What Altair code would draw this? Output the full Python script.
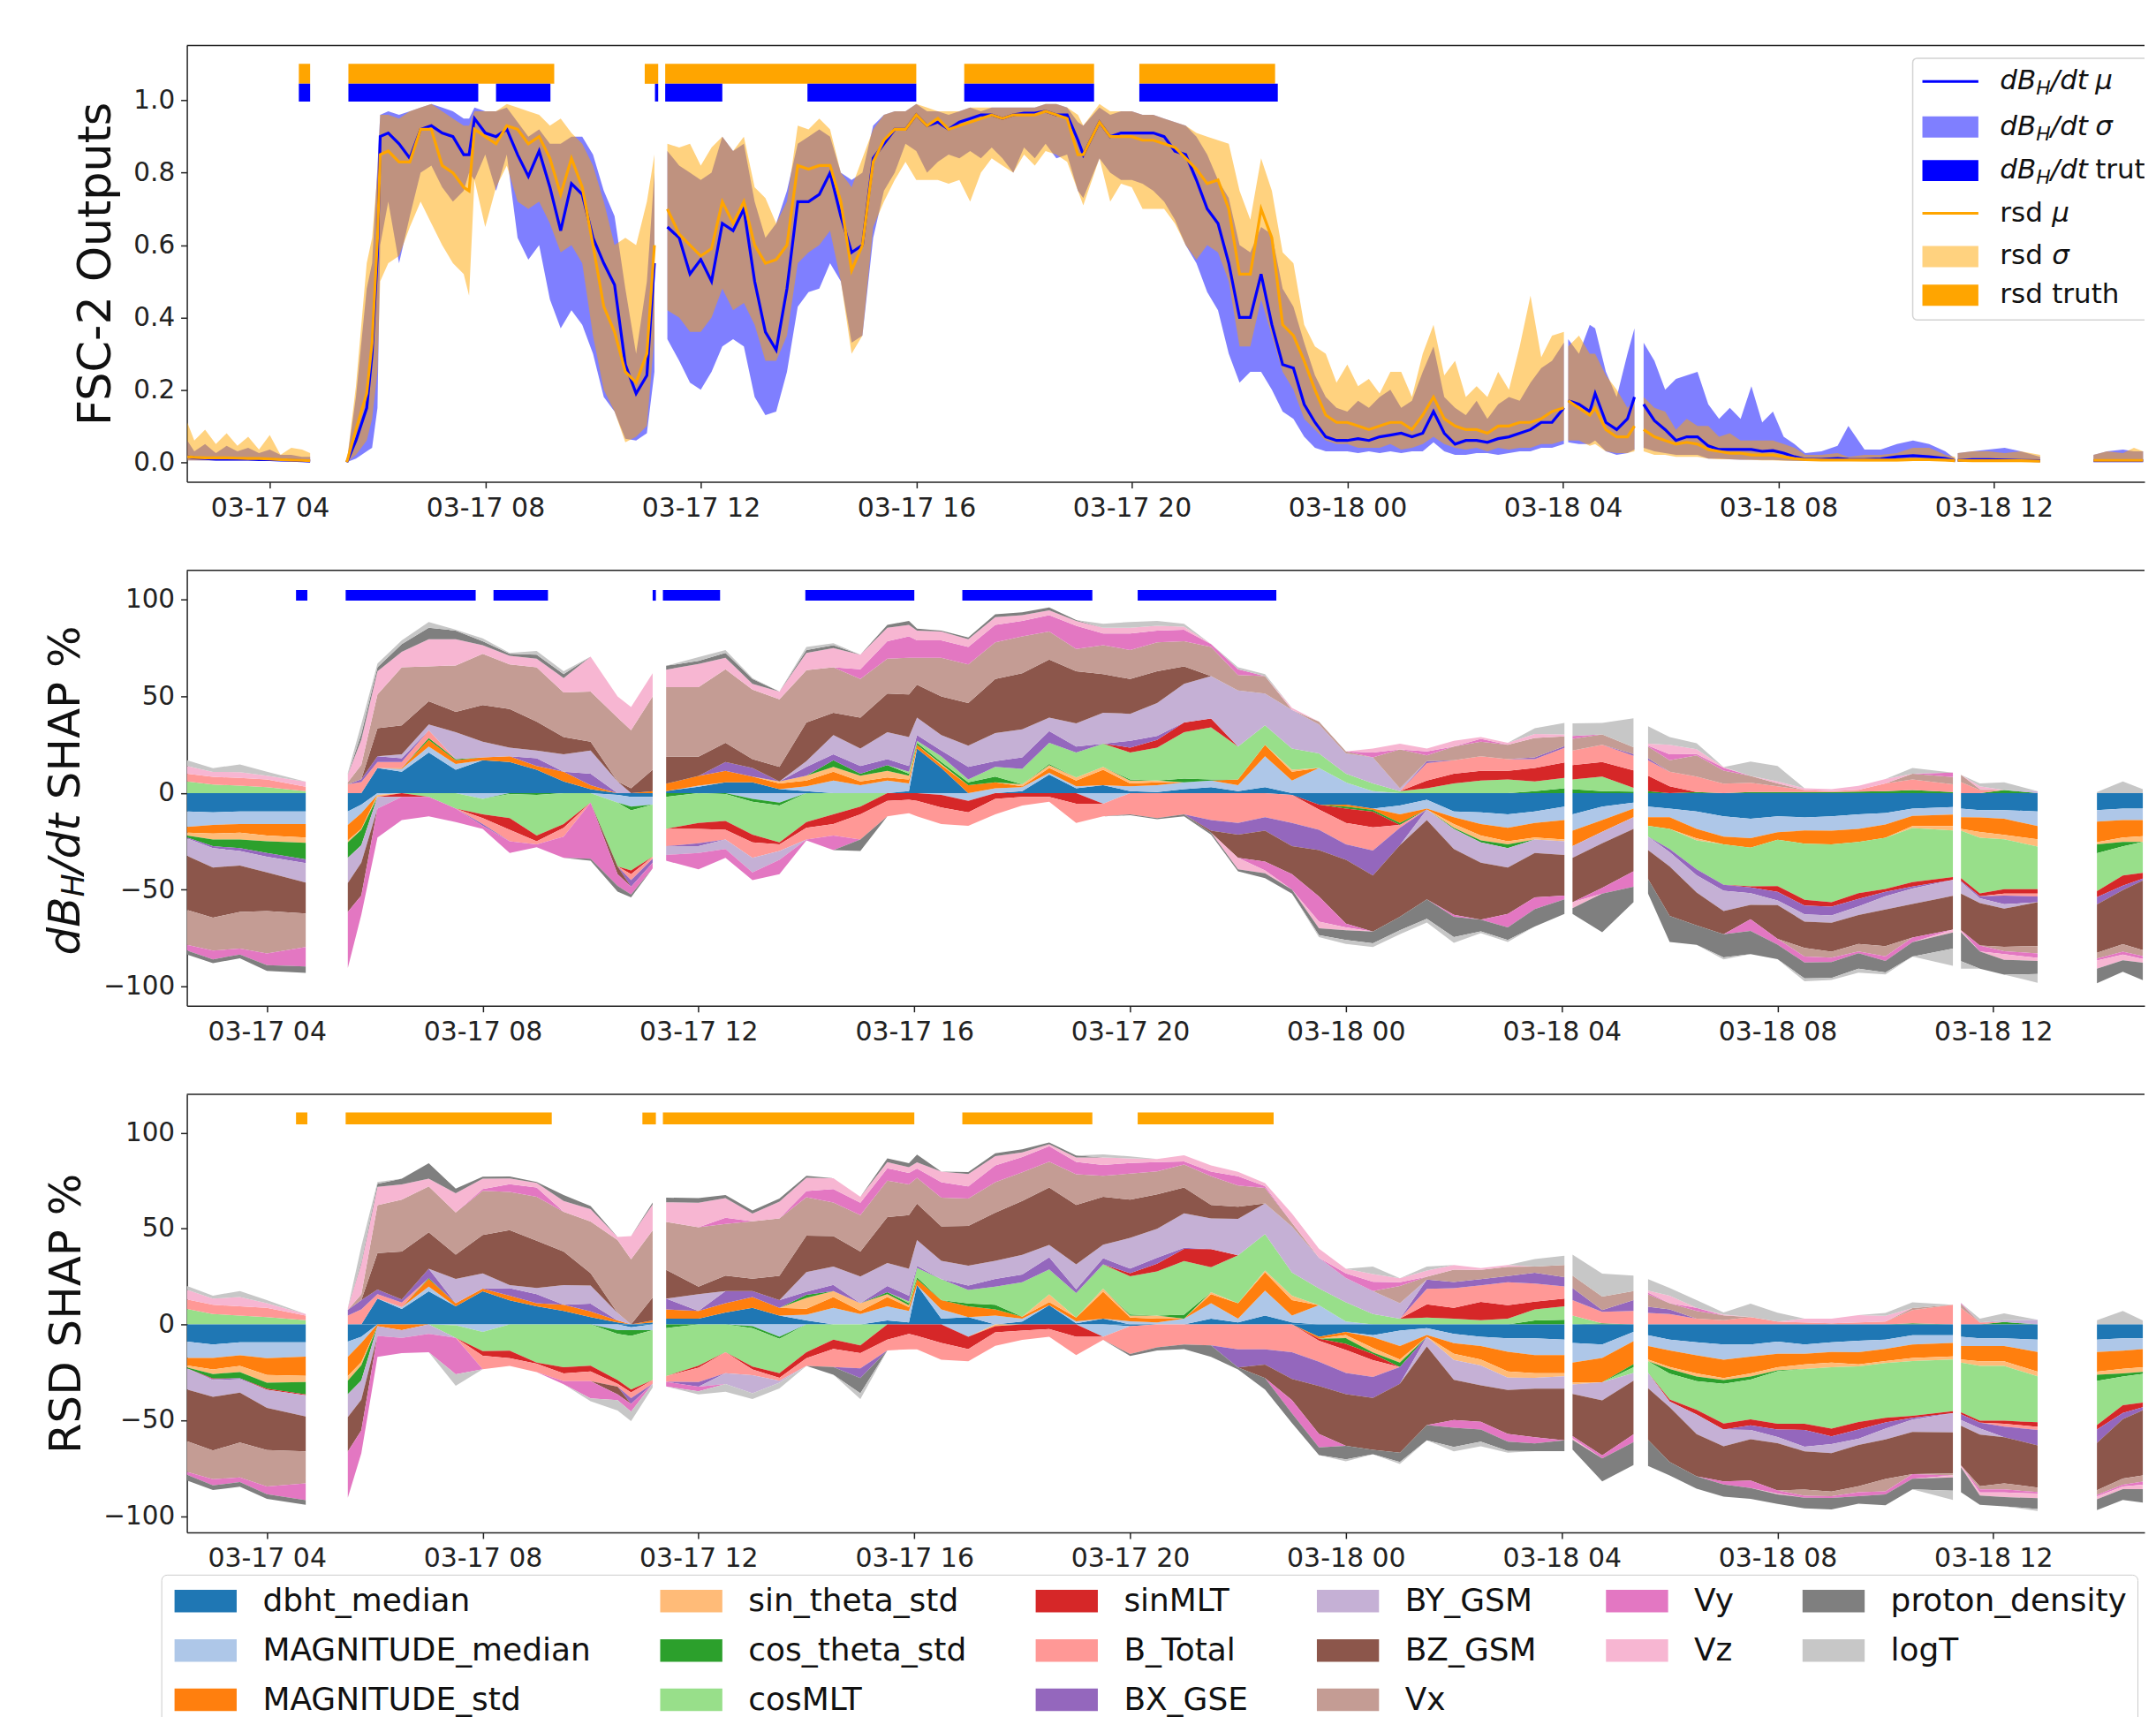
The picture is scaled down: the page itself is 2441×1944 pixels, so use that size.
import altair as alt
import pandas as pd
import numpy as np

alt.data_transformers.disable_max_rows()

FONT = "DejaVu Sans"
BLUE = "#0000ff"
ORANGE = "#ffa500"
INK = "#222222"

FEATURES = ["dbht_median", "MAGNITUDE_median", "MAGNITUDE_std", "sin_theta_std", "cos_theta_std",
            "cosMLT", "sinMLT", "B_Total", "BX_GSE", "BY_GSM", "BZ_GSM", "Vx", "Vy", "Vz",
            "proton_density", "logT"]
COLORS = ["#1f77b4", "#aec7e8", "#ff7f0e", "#ffbb78", "#2ca02c", "#98df8a", "#d62728", "#ff9896",
          "#9467bd", "#c5b0d5", "#8c564b", "#c49c94", "#e377c2", "#f7b6d2", "#7f7f7f", "#c7c7c7"]

# ---------- hours since 03-17 00:00 : output panel ----------
top_t = [2.47,2.6,2.8,3.0,3.2,3.4,3.6,3.8,4.0,4.2,4.4,4.6,4.75,
 5.43,5.6,5.8,5.9,6.0,6.05,6.2,6.4,6.6,6.8,7.0,7.2,7.4,7.6,7.7,7.8,8.0,8.2,8.4,8.6,8.8,9.0,9.2,9.4,9.6,9.8,10.0,10.2,10.4,10.6,10.8,11.0,11.14,
 11.38,11.6,11.8,12,12.2,12.4,12.6,12.8,13,13.2,13.4,13.6,13.8,14,14.2,14.4,14.6,14.8,15,15.2,15.4,15.6,15.8,16,16.2,16.4,16.6,16.8,17,17.2,17.4,17.6,17.8,18,18.2,18.4,18.6,18.8,19,19.1,19.4,19.6,19.8,20,20.2,20.4,20.6,20.8,21,21.2,21.4,21.6,21.8,22,22.2,22.4,22.6,22.8,23,23.2,23.4,23.6,23.8,24,24.2,24.4,24.6,24.8,25,25.2,25.4,25.6,25.8,26,26.2,26.4,26.6,26.8,27,27.2,27.4,27.6,27.8,28.02,
 28.1,28.3,28.5,28.6,28.8,29,29.2,29.33,
 29.5,29.7,29.9,30.1,30.3,30.5,30.7,30.9,31.1,31.3,31.5,31.7,31.9,32.1,32.3,32.5,32.8,33.1,33.3,33.6,33.9,34.2,34.5,34.8,35.1,35.28,
 35.33,35.6,35.9,36.2,36.5,36.86,
 37.85,38.1,38.4,38.6,38.77]
top_seg_ends = [4.75, 11.14, 28.02, 29.33, 35.28, 36.86]

db_mu = [1.5,1.2,1,.8,.8,.8,.8,.7,.7,.6,.5,.4,.3,
 0,6,15,30,58,90,91,88,84,92,93,91,90,85,85,95,91,90,92,85,79,86,76,64,77,74,62,55,49,27,19,24,55,
 65,62,52,56,50,66,64,70,50,36,31,48,72,72,74,80,68,58,60,84,88,92,92,96,93,94,92,94,95,96,96,95,96,96.5,96.5,97,96,96,89,85,94,90,91,91,91,91,90,86,85,78,70,66,55,40,40,52,38,27,26,16,11,7,6,6,6.5,6,7,7.5,8,7,8,14,8,5,6,6,5.5,6.5,7,8,9,11,11,15,
 17,16,14,19,11,9,12,18,
 16,11.5,9,6,7,7,4.5,3.5,3.5,3.5,3.5,3,3.2,2.5,1.5,.8,.8,1,.8,.7,.9,1.5,1.8,1.5,1,.4,
 .5,.7,.7,.6,.5,.4,
 .4,.4,.4,.4,.4]
rsd_mu = [1.5,1.3,1.2,1.2,1.2,1.1,1,1,.9,.7,.6,.5,.4,
 0,9,19,33,62,85,86,83,83,92,92,82,80,76,75,92,90,88,93,92,88,90,84,74,84,76,60,43,36,25,22,30,60,
 70,63,60,57,59,72,66,72,60,55,56,60,82,81,82,82,72,53,60,83,89,92,92,96,93,95,92,93,94,95,96,95,96,96,96,97,96,95,85,85,94,90,90,90,89,89,88,87,84,81,77,78,70,52,52,70,62,38,35,28,20,13,11,11,10,9,10,11,11,9,13,18,12,10,9,9,8,10,10,11,11,12,14,15,
 17,15,13,15,9,7,7,10,
 9,7,6,5,5.5,5,3.5,3,2.5,2.5,2,2,2,1.5,1,.7,.6,.6,.6,.6,.6,.6,.7,.7,.6,.4,
 .5,.4,.4,.4,.4,.3,
 .5,.5,.5,.5,.5]
db_up = [6,3,5,2.5,4.5,3,4,2.5,3.5,2,2,1.5,1.5,
 0,18,48,55,82,96,97,96,97,98,99,98,97,95,95,98,97,97,98,94,90,92,88,88,90,90,85,75,68,48,30,50,80,
 86,82,80,78,80,90,86,88,72,62,66,75,88,90,92,90,80,78,80,93,96,97,97,99,97,97,96,97,98,97,98,98,98,98,98,99,99,98,94,93,98,96,97,97,96,96,95,94,93,90,85,78,73,60,58,65,63,48,43,33,24,18,15,14,17,15,18,20,15,17,25,32,18,15,13,17,12,16,18,17,22,26,28,33,
 34,30,38,37,25,18,30,37,
 33,28,20,23,24,25,16,12,15,12,21,11,14,7,5,2.5,3,4.5,10,3.5,3.5,5,6,5,3,1,
 2.5,3,3.5,4,3,1.5,
 2,3,3.5,3,3]
db_lo = [.5,.5,.5,.5,.5,.5,.5,.5,.4,.4,.3,.3,.2,
 0,1,3,4,15,60,72,55,68,80,82,76,72,75,80,78,85,75,85,62,56,60,45,37,42,38,30,18,14,6.5,6,8,25,
 34,28,22,20,25,32,34,32,18,13,14,25,43,47,48,55,50,33,35,62,75,80,88,86,80,83,85,84,86,84,87,84,80,87,84,88,84,85,75,73,84,80,78,78,77,75,72,67,60,55,47,42,30,22,25,25,20,14,12,7,4,3,3,3,2.5,3,2.5,3,2.5,3,3,5.5,3,2,2,2.5,2.5,2,2.5,3,3,4,4,5,
 5.5,5,5,6,3,2,2.5,3.5,
 4,3,2.5,2,2,2,1,1,.8,.7,.7,.6,.6,.5,.4,.3,.3,.3,.3,.3,.3,.4,.4,.3,.3,.2,
 .2,.2,.2,.2,.2,.2,
 .2,.2,.2,.2,.2]
rsd_up = [11,6,9,5,8,4.5,7,3.5,7.5,2,4,3.5,2.5,
 0,21,55,62,80,96,96,95,97,98,99,97,95,93,93,97,97,97,99,98,97,96,93,95,91,88,82,72,60,62,60,72,85,
 88,87,88,82,87,90,86,90,76,73,66,72,93,92,95,92,80,76,84,92,96,97,97,99,98,97,97,97,98,98,98,98,98,98,98,99,99,98,96,93,99,97,97,97,96,96,95,94,93,91,90,89,88,75,67,84,75,58,55,38,32,30,22,27,21,23,19,25,25,18,30,38,24,28,18,21,18,25,20,32,46,29,35,36,
 32,35,30,30,24,20,15,17,
 18,15,14,9,12,10,10,7,8,6,6,6,6,5,4,2,2,2.5,1.5,2,2,2.5,4,4,2,1.5,
 2.5,3,3,2.5,3,2,
 2,3,2.5,4,3]
rsd_lo = [.5,.5,.5,.5,.5,.5,.5,.5,.4,.4,.3,.3,.2,
 0,2,6,12,25,50,55,57,65,72,66,60,55,52,46,78,65,76,82,72,70,72,66,58,60,55,35,20,14,5.5,7,10,35,
 42,40,36,36,40,48,42,44,38,28,28,35,55,58,60,64,50,30,35,65,72,78,83,78,78,78,77,78,72,80,84,82,80,85,82,86,85,83,75,71,84,72,77,76,70,70,70,66,60,56,60,58,50,32,32,45,35,25,20,12,9,6,5,5,4,4,4,5,3.5,4,5,7,5,4,3.5,4,3,4,3.5,4,4,5,5,6,
 6,6,4.5,5,3,2.5,2.5,3,
 3,2,2,1.5,1.5,1.5,1,.8,.8,.7,.6,.5,.5,.4,.3,.3,.3,.3,.3,.2,.2,.2,.3,.3,.2,.2,
 .2,.2,.2,.2,.2,.2,
 .2,.2,.2,.2,.2]

# ---------- truth intervals (hours) ----------
db_truth_start = [4.54, 5.46, 8.2, 11.15, 11.34, 13.98, 16.89, 20.14]
db_truth_end = [4.75, 7.87, 9.21, 11.21, 12.4, 16.0, 19.3, 22.71]
rsd_truth_start = [4.54, 5.46, 10.96, 11.34, 16.89, 20.14]
rsd_truth_end = [4.75, 9.28, 11.21, 16.0, 19.3, 22.66]

# ---------- SHAP panels: shared time knots ----------
shap_t = [2.52,3,3.5,4,4.72,
 5.5,5.75,6.05,6.5,7,7.5,8,8.5,9,9.5,10,10.5,10.75,11.15,
 11.4,12,12.5,13,13.5,14,14.5,15,15.5,15.9,16.05,16.5,17,17.5,18,18.5,19,19.5,20,20.5,21,21.5,22,22.5,23,23.5,24,24.5,25,25.5,26,26.5,27,27.5,28.05,
 28.2,28.75,29.33,
 29.6,30,30.5,31,31.5,32,32.5,33,33.5,34,34.5,35.25,
 35.4,35.75,36.2,36.82,
 37.92,38.4,38.77]
shap_seg_ends = [4.72, 11.15, 28.05, 29.33, 35.25, 36.82]

db_dbht = [-9.5,-10,-9.5,-9.5,-9.5, -9.5,-6,13,11,21,12,17,16,12,6,2,-1,-2,-2, 1,3.3,5.5,5.5,2,1,0,0,0,1,23,13,0,0,1,9.5,2.5,4,1,.5,2,3,1,3,-1,-6,-6,-8,-6.5,-3.5,-9.5,-10,-11,-9.5,-7, -11,-7,-5, -7,-8,-9.5,-12,-13.3,-12,-12.6,-12,-11,-10.3,-8,-7.3, -8,-8.8,-8.8,-9.5, -8.8,-8,-8]
db_magmed = [-8,-6.5,-6.5,-6.5,-6.5, -7,-4.5,-1,1.5,3,3,-3,0,0,0,0,-4,-5,-4, 0,.5,0,-3,-5,2.5,6.5,4,6.5,4,0,-1,-4,2.5,2,1,1,-5.5,2.5,3.5,3.5,3.5,3,16,6.5,13,5.5,1,-4.5,-4.5,-3,-6,-7,-6,-7, -8.5,-7,-3, -5.5,-4.5,-9,-10.5,-10,-8.3,-6.8,-7.5,-7.5,-6,-3.8,-3.8, -4.5,-3.8,-4.5,-7.6, -6,-6,-6]
db_magstd = [-3,-4.5,-4.5,-6,-7, -8,-8,0,.5,3.5,2,1.5,3,2,5,2,0,0,1, 3.8,5,6,3,3,3,4.5,2,1.5,2,2,1.5,4,3,.5,2.5,3,8,1.5,1.5,0,0,3,6,4.5,0,-1,-.7,-4.5,-.5,-3.5,-6,-7,-7.5,-10, -8,-6,-4.5, -4.5,-6,-5,-4,-5,-3.8,-6.8,-7,-6.8,-6.8,-5.3,-6, -6,-7.5,-8.3,-6.8, -10.6,-9,-8.3]
db_sinth = [-1.5,-3,-3.5,-3,-2.7, -1,-.5,-1,0,0,0,0,0,0,0,0,0,0,0, 0,0,0,0,1,2.5,2.5,3,3.5,2,0,.5,0,0,1,1.5,1.5,1.5,1.5,1,0,0,0,0,1,0,0,0,0,0,-2,-2.5,-1.5,-1,-1, 0,0,0, 0,0,-1,0,0,0,0,0,0,0,-1,-2.3, -1,-3,-2.3,-3.8, -1.2,-2.3,-3]
db_costh = [-1,-3.5,-4.5,-6,-8.6, -8,-8,0,0,1,.5,0,-.5,-1,0,0,0,-2,0, -2,0,-.5,-1.5,-1.5,0,3.5,1,3,1,1,1,1.5,3,0,.5,0,0,.5,0,2,.5,0,0,0,0,-1,-1,-1,0,-.5,-1,-2,1,2.5, 2,1,.7, 1,0,.5,0,.5,.5,.5,.5,.7,1,1.5,.5, 0,0,1.5,0, -4.5,-2.3,0]
db_cosmlt = [6,4.4,3.8,3,1, 0,0,0,0,-2,-8,-8,-12.5,-21,-16,-5,-33,-31,-27, -16.5,-15.5,-14,-17,-19,-15,-11,-7,0,1,1,3,1.5,5,8,11,13,12,14,17,24,27,17,10,11,7.5,4.5,4,1,2.5,5,6.5,7,5,5.3, 5,7.5,2, -5.5,-10.5,-15,-21,-20,-24,-29,-30,-26.5,-26.5,-28,-24, -24.5,-28.8,-25.8,-22, -19.7,-15,-16]
db_sinmlt = [0,0,0,0,0, 0,0,0,-2,0,0,-2,-6,-3,-2,0,0,-2,0, 0,-3,-4.5,-4,-1,-3,-5,-4,-4,-3.5,-4,-6.5,-6,-3,-2,-2,-5.5,0,2.5,4,5,4.5,0,0,0,-2.5,-7.5,-8,0,4,5,5,4.5,7,8, 7.5,7.5,9, 8,3.5,0,0,-.5,-3,-3,-2.3,-3,-1.5,-2.3,-1.5, -1.5,-1.5,-2.3,-2.3, -3,-5.3,-3]
db_btotal = [4,4,4,4,2.3, 4.5,5.6,3,3,4,0,-3,-6,-1.5,-4.5,0,0,-3,-1, -9,-7.5,-5,-8,-3.5,-6,-6,-13,-8,-7,-8,-8.5,-7,-8,-4.5,-2.5,-10,-6.5,-11,-13,-11,-14,-15.5,-12.5,-14.5,-10.5,-11,-12,-1.5,9,7,7.5,6,4.5,7.5, 7.5,9,7.5, 8,7.5,8,4.8,4.8,3,1,.5,1,4,5.5,4, 5.6,1.5,-1,-1.5, 0,0,0]
db_bx = [-.5,-1,-1.5,-2,-2, 0,1.5,3,2,0,0,-1,0,4,0,6,0,-3.5,-2, 0,-1.5,4.5,4.5,0,4.5,3,4,3,3,3,3,6.5,3,6,6,3,0,3.5,2,0,-5.5,-6,-7,-12,-10.5,-8,-13,-9,1,0,0,0,1,1, 0,0,1, 1,-1.5,-3,-3,-3,-4.5,-4.5,-4.5,-3.8,-2.3,-1,0, -.5,-1,-4.5,-3, -3.8,-2.3,-1]
db_by = [-9,-10,-7.5,-8,-10, -13,-9,-6,2,3,14,8,4.5,4,9,12,6,0,0, -4.5,-3.5,-5,-7.5,-4.5,3,10,9,14,15,9,8,11,14.5,14.5,7,12,16,14,17,20,22,29,16.5,20,15,10.5,13.5,1.5,-5.5,-10.5,-10.5,-10,-7,-7, -6,-6,-6, -7,-7.5,-9,-10.5,-6,-2.3,-3.8,-3.8,-4.5,-6.8,-8,-8.3, -6,-2.5,-2.3,1, 0,0,0]
db_bz = [-28,-26,-24,-20,-16, -15,-17,14.5,15,12,10.5,19,20,15,9,4.5,-4,2.5,11, 14,10,10,4.5,7.5,20,11.5,16,20,22,17,20,22,28,29,30,27,20,18,16.5,9,-1,-12,-16,-14.5,-24,-33,-29,-37,-41,-34,-29.5,-24,-23,-21, -23,-23,-22, -15,-25.5,-17,-12,-7.5,-17.5,-13.6,-15,-15,-19,-17.4,-17.4, -19,-22,-19.7,-22.7, -25,-28,-36]
db_vx = [-18,-17,-19,-22,-17.4, 1,7.5,17.5,30,18,24,26.5,23,28,23,26,33,30,38, 36,36,38,36,35,27,23.5,20,18,19,14,20,20,19,19,14.5,11.5,15,15,15,13,15,8,9,0,1.5,1,0,20,3,7,7.5,7.5,10,5, 6,5.3,3.5, 6,6,11,6.8,3.5,1.5,-4.5,-3,-3.8,-5.3,3,3.8, 3.8,.5,-2.3,-3.8, -3,-3.8,-3]
db_vy = [-3,-4.5,-3,-6,-10, -29,-10,-15,-12,-10,-7,-1.5,-6,-1.5,-11,-29,-6,-4,-3, -3,-8.5,-4.5,-4,-7.5,-.5,-7.5,5,9,11,9,9,9,9,8,8.5,12,6,8.5,6,6,1.5,3,-4.5,-8,-13,-2,2.5,0,2,-1,1.5,-7,-6,-2, 1.5,-3,-8, .5,3,.7,1.5,-6,-3,-3,-2.3,-1,-2.3,-2.3,2.3, 0,-3,-1.5,-2.3, -1,-1.5,-1.5]
db_vz = [4,2.5,3,2,2.6, 4,13,12,8,14,13.5,4.5,4.5,4.5,7.5,18,11,12,12, 9,12,6,3,4,9,10,7.5,7,6,5,4.5,4,4,3,2.5,2.5,3,3,2.5,1.5,0,-6,-1.5,1,-3.5,-1.5,2,3,1.5,3,1,1,2,1, -3,0,0, 1,5,2.5,.3,0,1,1,1,2,2.3,0,-1.5, -1,1.5,-3,-1.5, -4.2,-3,-2]
db_proton = [-2,-2,-2,-3,-3.3, 0,3,2,4,6,4.5,2,1,2,2,-1,-3,-1.5,0, 2,1.5,2.5,2.5,0,1.5,1.5,-6,1.5,2,1,.5,1,1.5,1.5,1.5,.5,0,-.5,-.5,-1,-1,-1,-2.5,-2,-3.5,-5,-6,-7,-10,-10.5,-6,-6.5,-9,-7.5, -3,-20,-8, -7.5,-13.5,-10,-12,-12,-7.5,-8.3,-8.3,-8,-6,-7.5,-8.3, -15,-9,-7.6,-6.8, -7.6,-6,-9]
db_logt = [3,2,4,2,0, 1,5,2,2,3,.5,1.5,.5,2,1.5,0,0,0,0, 0,2,1.5,.5,0,1.5,1,0,0,0,0,0,0,0,0,0,0,2,3,2.5,1.5,0,1,1,0,-1,-2,-2,-2,-2,-3,-1,-1,3,6, 6.5,6,15, 9,4,3,-1,7.5,8,-1.5,-1,-2,-1,3,-9, -3.8,1.5,4,-4.5, .5,6,2]

rsd_dbht = [-9,-10.5,-9.4,-9.4,-9.4, -9,-6.5,13.4,8,17.3,9.4,17.3,12.5,9.4,7,3.8,1,-1.5,1, 3,3,6.2,8.6,4.6,2,0,0,2,1,20.5,3,3.8,0,1.5,10,.6,3,-1,0,0,3,1,4.6,1,-6.5,-4,-5.7,-3.3,-2,-5,-6.5,-7.3,-7.3,-8, -9.7,-10.5,-4, -5.7,-8,-9.4,-10.5,-10.5,-9,-10.5,-9.4,-8.6,-8,-5.7,-5.7, -6.5,-7.3,-7.3,-8, -8,-7.3,-7.3]
rsd_magmed = [-8.5,-7,-6.7,-8.3,-7.5, -8,-3.2,0,1,2.4,-.5,-4,0,0,0,0,-3,-1.5,-3, 0,0,0,-1,-6.5,3,8.6,5.4,7.4,6,0,4.8,-6.5,4.6,1.5,0,1,-6.5,1.6,1,3,8,2,13,3.6,10,1.5,-1,-8,-3.5,-4.8,-4.8,-7,-8.7,-8, -10.3,-7,-4.8, -5.6,-5.6,-6.7,-8,-6.4,-6.4,-4.8,-5,-5.9,-4.8,-4.8,-4, -4.8,-4,-4,-6.4, -6.4,-6.4,-5.6]
rsd_magstd = [-4,-6,-5.6,-8.7,-10, -10,-10,-1,-3,4,1.6,1.3,2.4,1.6,3.2,3,1,0,1, 4.8,4,4.8,5.6,4,3.2,5.6,1.6,4.8,2,3,4.8,5.6,3.2,1,1.6,2,14,2,2,0,4.8,8,9.5,8,-1,-1.6,-5.6,-7,-1,-5.6,-7,-10.3,-9.5,-9.5, -10.3,-12.7,-12, -7,-8.7,-9.5,-9.5,-8.7,-7,-5.6,-5.6,-6.4,-6.4,-7,-7, -7,-8,-8,-10.3, -10.3,-9.5,-9.5]
rsd_sinth = [-1,-2.4,-3.2,-4,-3.2, -2.4,-1.6,0,0,0,0,0,0,0,0,0,0,0,0, 0,0,0,0,0,5.6,3.2,4,1.6,1,0,0,0,-1,0,4,0,1.6,1,1.6,0,1,0,1,2.4,0,-1.6,-2.4,-1.6,0,-3.2,-3.2,-3.2,-2.4,-1.6, -1,0,0, -1,-1,-1.6,-1,-1.6,-1.6,-2.4,-2.4,-1,-1,-1.6,-1.6, -1.6,-2.4,-2.4,-2.4, -1.6,-2.4,-2.4]
rsd_costh = [-.5,-2.4,-3.2,-3.2,-6.4, -7,-8,0,0,.5,0,0,0,0,0,0,-2,-3,0, -2,0,0,-1,-1,1.6,0,0,1,1,1,0,1.5,2.4,0,0,0,0,.5,0,2,0,0,0,0,0,-3,-.8,-2.4,0,0,0,0,2,2.4, 0,.5,-1.6, 0,-2.4,-2.4,-2,-1.6,-.5,0,0,0,0,.5,0, 0,0,1.2,0, -3.2,-1.6,-1]
rsd_cosmlt = [8,5.4,4.6,3.8,2.2, 0,0,0,0,0,-6.5,-10,-13.7,-20,-22.4,-21.6,-24,-28,-26, -25,-21.6,-14.5,-20,-18,-14.5,-8,-11,0,1,5,11,7,9.5,18,13,12.7,12.7,20,23,28,13,25,19,12,8.7,10,5.4,3,3.5,3,2.2,3,5.8,7, 4.6,0,-3, -6,-13.5,-15,-20.7,-20.7,-27.3,-28.6,-32,-29,-28.6,-28.6,-27, -26,-28.6,-28.6,-24, -23,-15,-15]
rsd_sinmlt = [0,-.3,0,-.5,-.5, 0,0,0,0,0,0,-2.4,-4,-.5,-3.2,-3,-2,-1.5,0, 0,-1,0,-1.5,-2.4,-3.2,-4.8,-4,-8,-5,-6,-9.7,-6.4,-3.2,-3.3,-2.5,-6.5,0,1.6,4,6.4,9.5,0,0,0,-1,-3.2,-3.2,0,7,5.6,9.5,7,4,4, 0,0,0, 0,-1,-2.4,-3.2,-3.2,-3,-3.2,-4,-4,-2.4,-1,-1, -1,-1,-1.5,-2.4, -2.4,-4,-2.4]
rsd_btotal = [5,4.8,4.8,4.8,2.4, 4.6,7.8,2.4,2.4,0,0,-7,-4,-4.4,-4,-5,-1.5,-3,-2, -3,-7.5,-11,-3,-1.5,-4,-9.5,-8,-5.6,-8,-7,-8.7,-6.4,-7,-4.8,-4,-9.5,-1.6,-14.5,-12,-10.5,-11,-13,-13,-14.5,-11,-12,-8.7,0,8,10.3,8.7,12,9.5,6.4, 8,6,7, 6,5.4,3,2.2,3.8,1.5,1,.5,1,1.5,7,10.2, 8.6,1,-1.5,-1.6, 0,0,0]
rsd_bx = [0,-.5,-.5,0,0, 3,4.8,2.4,1.6,4.8,0,0,4,4.8,0,4,0,-3,0, 5.6,-2.4,6.4,3.2,4,1.6,3.2,-5,3.2,3,1,0,2.4,4,4,6.4,2,3.2,2.4,3.2,.5,0,-9.5,-8,-14,-12.7,-11,-11,-8.7,4.8,3.2,3.2,3.2,5.6,4.8, 6.4,1,5.6, 3.2,2.4,0,0,-2.4,-4,-8.7,-4,-4.8,-3.2,-1,0, -3,-3,-5.6,-8, -7,-3.2,-1.6]
rsd_by = [-11,-8.7,-7,-9.5,-11, -12,-10,-5,-4,-5,12.7,8,1.6,3.2,10.3,9.5,4,0,0, 0,8.7,-5.6,-9.5,-1,10.3,9.5,14,12,14,13.5,9.5,10.3,9.5,10.3,6.4,13,7,16,15,18,16,19,16,24,16,12.7,12,8,-5,-10.3,-10.3,-6.4,-5.6,-6.4, -5,-9.5,-4, -8,-3,-10.3,-8.7,-4.8,-3.2,-2.4,-4.8,-3.2,-5.6,-6.4,-10, -3,-3.2,1,2.4, 0,0,0]
rsd_bz = [-27,-28,-26,-22,-18.3, -18,-16,19,25,19,12.7,20,28.6,24.6,17.5,6.4,-4,0,12, 15,4,8,6.4,12.7,19,16,13,24,28,19,18,20.7,25,28,30,31,25,20,18,13.5,7,6.4,-7,-11,-25,-27,-27,-36,-41,-21,-19,-23,-25.4,-27, -22,-28.6,-28, -27,-28.6,-22,-18.3,-21.5,-24.6,-20,-20,-21.5,-20.7,-22,-21.5, -20.7,-27,-24,-22, -24.6,-31,-34]
rsd_vx = [-16,-15,-18.3,-19,-16.7, 0,3,25,27,24,22,23,20,23,20.7,27,38,34,35, 25,31,27,30,30,20,17.5,19,19,16,13.5,15,14.3,16,15,13.5,16,11,13.5,12,12,15,11,8,2,0,0,0,9,1.6,6.4,4.8,4.8,3.2,6.4, 6.4,7,4.8, 6.4,3.2,4,2.5,0,0,-3.2,-2.4,-3.2,-6.4,1,-1, 2,-1.6,-3.2,-2.4, -2.4,-3.2,-3.2]
rsd_vy = [-1.5,-3.2,-2.4,-4,-8.7, -24,-12,-11,-8,-9.5,-19,1,4,4.8,-1.6,-9,-3,-4,0, -2.4,-2.4,3.2,0,0,3.2,7,6.4,6.4,6,4.8,8,6.4,8.7,8,8,6.4,5.6,5.6,4.8,1.6,2.4,4.8,1,-7,-7,2.4,4.8,2,0,-4,-4,-4,-3.2,0, -1,-1.6,-4, 1,0,1.6,-1.6,-4,-1.6,-1,-1,-2,-1.6,-2.4,0, .5,-1.6,-1.6,-.8, -.8,-1,-1.6]
rsd_vz = [5,3.2,4.8,2.4,.8, 1,16,9.5,8,4,10,5.4,3,2.4,5.6,6.4,1.6,12,13.5, 10.3,12.7,10.3,4,8.7,7,5.6,3.2,3.2,3,3.2,5.6,6.4,4.8,2.4,1,2.4,4,2.4,1.6,3.2,3.2,2.4,1.6,4.8,4.8,2.4,4,2,3.2,2.4,1,1,0,0, -1,0,0, 1,4,0,.5,0,-.5,2,2.5,3.8,3,0,-1, -1,-1.6,-2.4,-2.4, -1.6,-1.4,-2.4]
rsd_proton = [-3,-2.4,-2.4,-2.4,-2.4, 0,1,1.6,3,8,2.4,1,1,.5,3.2,1.6,0,0,1, 2.4,2.4,1.6,1.6,1.6,1,-4,-8,2,2,4,0,1,1.5,1.6,1,1,0,-1,-1.6,-2.4,-6,-1,-6,-5,-4,-7,-2.4,-4.8,-8,-10,-6.4,-4.8,-4,-5.6, -5,-12,-12, -13.5,-7,-6.4,-6.4,-5.6,-5,-5.6,-6,-4,-5.6,-5.6,-7, -13,-4.8,-4.8,-5.6, -5.6,-5.6,-7]
rsd_logt = [2,1.6,3.2,1.6,0, 0,8,1,0,0,-6,0,0,0,0,-1.5,-5.5,-5,-2, 0,-1.6,-4,-3,-3,0,0,-3,0,0,0,0,0,0,0,0,0,1.6,1,0,0,0,0,0,0,0,-1,4,-1,2,-2.4,-2.4,-1,4,4.8, 11,12,8, 6,4,4,1,7,4.6,0,0,0,1.5,3,-4.8, 0,2,3.5,-1, 2.2,7,2]

DB_SERIES = [db_dbht, db_magmed, db_magstd, db_sinth, db_costh, db_cosmlt, db_sinmlt, db_btotal,
             db_bx, db_by, db_bz, db_vx, db_vy, db_vz, db_proton, db_logt]
RSD_SERIES = [rsd_dbht, rsd_magmed, rsd_magstd, rsd_sinth, rsd_costh, rsd_cosmlt, rsd_sinmlt, rsd_btotal,
              rsd_bx, rsd_by, rsd_bz, rsd_vx, rsd_vy, rsd_vz, rsd_proton, rsd_logt]


def stamp(hours):
    return pd.Timestamp("2015-03-17") + pd.to_timedelta(np.asarray(hours, dtype=float), unit="h")


def iso(hour):
    return (pd.Timestamp("2015-03-17") + pd.Timedelta(hours=hour)).strftime("%Y-%m-%dT%H:%M:%S")


def hour_tick(day, hour):
    return alt.DateTime(year=2015, month=3, date=day, hours=hour)


X_TICKS = [hour_tick(17, h) for h in (4, 8, 12, 16, 20)] + [hour_tick(18, h) for h in (0, 4, 8, 12)]

WIDTH = 2221
top_x_scale = alt.Scale(domain=[iso(2.462), iso(38.797)])
shap_x_scale = alt.Scale(domain=[iso(2.517), iso(38.802)])
top_y_scale = alt.Scale(domain=[-0.054, 1.152])
db_y_scale = alt.Scale(domain=[-110, 115.2])
rsd_y_scale = alt.Scale(domain=[-108.5, 120])

x_axis = alt.Axis(values=X_TICKS, format="%m-%d %H", title=None, grid=False, labelFontSize=30, labelFont=FONT,
                  labelColor=INK, tickColor=INK, domainColor=INK, tickSize=7, tickWidth=1.5, domainWidth=1.5,
                  labelPadding=8)


def y_axis(values, fmt, title=None, title_x=-137, title_size=50):
    return alt.Axis(values=values, format=fmt, title=title, titleX=title_x, titleFontSize=title_size,
                    titleFont=FONT, titleFontWeight="normal", titleColor="#111111", titleBaseline="middle",
                    titleAlign="center", grid=False, labelFontSize=29.5, labelFont=FONT, labelColor=INK,
                    tickColor=INK, domainColor=INK, tickSize=7, tickWidth=1.5, domainWidth=1.5, labelPadding=7)


top_y_axis = y_axis([0, .2, .4, .6, .8, 1.0], ".1f", "FSC-2 Outputs", -102, 51)
SHAP_TICKS = [-100, -50, 0, 50, 100]
db_y_axis = y_axis(SHAP_TICKS, "d")
rsd_y_axis = y_axis(SHAP_TICKS, "d", "RSD SHAP %", -136, 50)


def segments(hours, ends):
    return np.searchsorted(np.array(ends) + 1e-6, np.array(hours))


def truth_df(starts, ends, lo, hi):
    return pd.DataFrame({"start": stamp(starts), "end": stamp(ends), "lo": lo, "hi": hi})


def truth_layer(df, color, x_scale, y_scale, axis_y=None):
    x_kw = {"axis": x_axis} if axis_y is not None else {}
    y_kw = {"axis": axis_y} if axis_y is not None else {}
    return alt.Chart(df).mark_rect(color=color).encode(
        x=alt.X("start:T", scale=x_scale, **x_kw), x2="end:T",
        y=alt.Y("lo:Q", scale=y_scale, **y_kw), y2="hi:Q")


one = pd.DataFrame({"a": [0]})


def txt(s, x, y, size, style="normal", angle=0, color="#111111", clip=False):
    kw = {"clip": True} if clip else {}
    return alt.Chart(one).mark_text(text=s, fontSize=size, font=FONT, fontStyle=style, angle=angle, align="left",
                                    baseline="middle", color=color, **kw).encode(x=alt.value(x), y=alt.value(y))


def rect(x0, x1, y0, y1, color, opacity=1.0, stroke=None, radius=0):
    kw = dict(color=color, opacity=opacity)
    if stroke:
        kw.update(stroke=stroke, strokeWidth=1.5, clip=True)
    if radius:
        kw.update(cornerRadius=radius)
    return alt.Chart(one).mark_rect(**kw).encode(x=alt.value(x0), x2=alt.value(x1), y=alt.value(y0), y2=alt.value(y1))


def top_spine():
    return alt.Chart(one).mark_rule(color=INK, strokeWidth=1.5).encode(
        x=alt.value(0), x2=alt.value(WIDTH), y=alt.value(0))


# ---------- panel 1 ----------
top_df = pd.DataFrame({"time": stamp(top_t), "seg": segments(top_t, top_seg_ends),
                       "db_mu": np.array(db_mu) / 100, "rsd_mu": np.array(rsd_mu) / 100,
                       "db_up": np.array(db_up) / 100, "db_lo": np.array(db_lo) / 100,
                       "rsd_up": np.array(rsd_up) / 100, "rsd_lo": np.array(rsd_lo) / 100})
top_x = alt.X("time:T", scale=top_x_scale)


def band(lo, hi, color):
    return alt.Chart(top_df).mark_area(color=color, opacity=0.5, interpolate="linear").encode(
        x=top_x, y=alt.Y(f"{lo}:Q", scale=top_y_scale), y2=f"{hi}:Q", detail="seg:N")


def mean_line(field, color):
    return alt.Chart(top_df).mark_line(color=color, strokeWidth=3.2, interpolate="linear").encode(
        x=top_x, y=alt.Y(f"{field}:Q", scale=top_y_scale), detail="seg:N")


LX0, LX1, TX = 1969, 2032.5, 2057
ROWS = [41, 92.5, 142, 190.5, 239.5, 283.5]


def math_label(row, tail, tail_style):
    y = ROWS[row]
    return [txt("dB", TX, y, 31, "italic"), txt("H", TX + 41, y + 8, 22, "italic"),
            txt("/dt", TX + 57.5, y, 31, "italic"), txt(tail, TX + 108, y, 31, tail_style, clip=True)]


def plain_label(row, tail, tail_style):
    y = ROWS[row]
    return [txt("rsd", TX, y, 31), txt(tail, TX + 59, y, 31, tail_style)]


top_legend = [rect(1958, WIDTH + 30, 14.5, 311.5, "#ffffff", 0.85, "#cccccc", 5),
              rect(LX0, LX1, ROWS[0] - 1.5, ROWS[0] + 1.5, BLUE),
              rect(LX0, LX1, ROWS[1] - 12, ROWS[1] + 12, BLUE, 0.5),
              rect(LX0, LX1, ROWS[2] - 12, ROWS[2] + 12, BLUE),
              rect(LX0, LX1, ROWS[3] - 1.5, ROWS[3] + 1.5, ORANGE),
              rect(LX0, LX1, ROWS[4] - 12, ROWS[4] + 12, ORANGE, 0.5),
              rect(LX0, LX1, ROWS[5] - 12, ROWS[5] + 12, ORANGE)]
top_legend += math_label(0, "μ", "italic") + math_label(1, "σ", "italic") + math_label(2, "truth", "normal")
top_legend += plain_label(3, "μ", "italic") + plain_label(4, "σ", "italic") + plain_label(5, "truth", "normal")

panel1 = alt.layer(
    truth_layer(truth_df(rsd_truth_start, rsd_truth_end, 1.046, 1.101), ORANGE, top_x_scale, top_y_scale, top_y_axis),
    truth_layer(truth_df(db_truth_start, db_truth_end, 0.997, 1.046), BLUE, top_x_scale, top_y_scale),
    band("db_lo", "db_up", BLUE), band("rsd_lo", "rsd_up", ORANGE),
    mean_line("db_mu", BLUE), mean_line("rsd_mu", ORANGE),
    top_spine(),
    *top_legend
).properties(width=WIDTH, height=495)

# ---------- SHAP panels ----------
LEGEND_DOMAIN = FEATURES[:14] + [" "] + FEATURES[14:] + ["  "]
LEGEND_RANGE = COLORS[:14] + ["rgba(0,0,0,0)"] + COLORS[14:] + ["rgba(0,0,0,0)"]
color_scale = alt.Scale(domain=LEGEND_DOMAIN, range=LEGEND_RANGE)
SWATCH = "M-1,-0.85H3.7V0.85H-1Z"
bottom_legend = alt.Legend(title=None, orient="none", legendX=-29, legendY=545, columns=6, direction="vertical",
                           symbolType=SWATCH, symbolSize=900, symbolStrokeWidth=0, symbolOpacity=1,
                           labelFont=FONT, labelFontSize=36, labelColor="#111111", labelOffset=67, labelLimit=600,
                           rowPadding=20, columnPadding=75, gridAlign="each", padding=12, fillColor="#ffffff",
                           strokeColor="#cccccc", cornerRadius=6)


def shap_layers(series, y_scale, legend):
    layers = []
    seg = segments(shap_t, shap_seg_ends)
    frame = []
    for i, (name, vals) in enumerate(zip(FEATURES, series)):
        v = np.array(vals, dtype=float)
        frame.append(pd.DataFrame({"time": stamp(shap_t), "seg": seg, "feature": name, "rank": i,
                                   "pos": np.clip(v, 0, None), "neg": np.clip(v, None, -1e-6)}))
    frame = pd.concat(frame)
    for s in sorted(set(seg)):
        part = frame[frame["seg"] == s]
        for col in ("pos", "neg"):
            layers.append(alt.Chart(part).mark_area(interpolate="linear").encode(
                x=alt.X("time:T", scale=shap_x_scale),
                y=alt.Y(f"{col}:Q", stack="zero", scale=y_scale),
                color=alt.Color("feature:N", scale=color_scale, legend=legend),
                order=alt.Order("rank:Q")))
    return layers


TITLE_X = -137
panel2 = alt.layer(
    truth_layer(truth_df(db_truth_start, db_truth_end, 99.5, 105), BLUE, shap_x_scale, db_y_scale, db_y_axis),
    *shap_layers(DB_SERIES, db_y_scale, None),
    top_spine(),
    txt("dB", TITLE_X, 436.7, 50, "italic", 270),
    txt("H", TITLE_X + 9, 370.6, 35, "italic", 270),
    txt("/dt", TITLE_X, 344.3, 50, "italic", 270),
    txt("SHAP %", TITLE_X, 260, 50, "normal", 270),
).properties(width=WIDTH, height=494)

panel3 = alt.layer(
    truth_layer(truth_df(rsd_truth_start, rsd_truth_end, 104.3, 110.5), ORANGE, shap_x_scale, rsd_y_scale, rsd_y_axis),
    *shap_layers(RSD_SERIES, rsd_y_scale, bottom_legend),
    top_spine(),
).properties(width=WIDTH, height=497)

chart = alt.vconcat(panel1, panel2, panel3, spacing=54.5).resolve_scale(color="independent").properties(
    padding={"left": 41, "top": 40.5, "right": 0, "bottom": 0}, background="#ffffff"
).configure_view(strokeWidth=0)

chart.save("out.html", embed_options={"renderer": "svg", "actions": False})
